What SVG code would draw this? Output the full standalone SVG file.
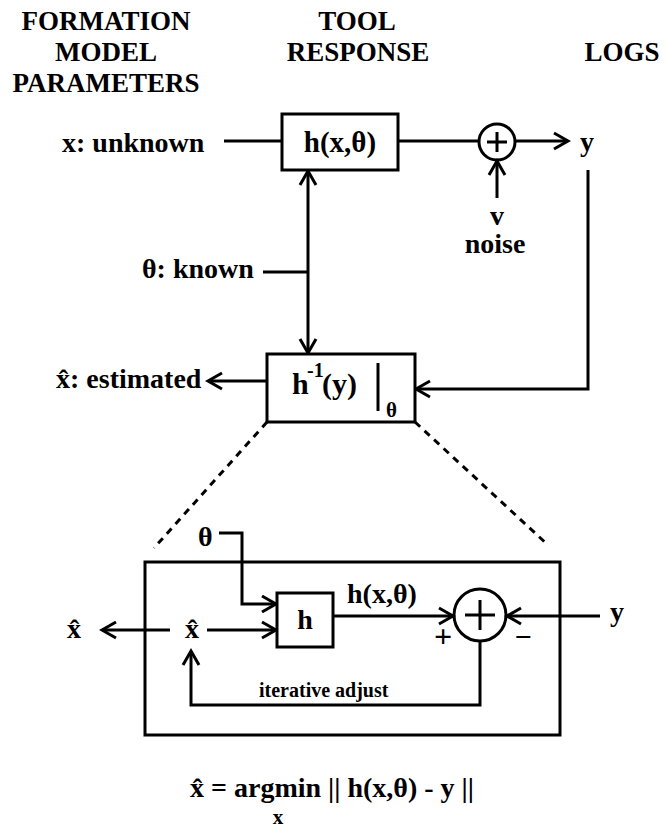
<svg xmlns="http://www.w3.org/2000/svg" width="667" height="830" viewBox="0 0 667 830">
<style>
text{font-family:"Liberation Serif","Times New Roman",serif;font-weight:bold;fill:#000}
.hd{font-size:27px;text-anchor:middle}
.t{font-size:28px}
.c{text-anchor:middle}
.sm{font-size:20px}
.box{fill:#fff;stroke:#000;stroke-width:3}
.frame{fill:none;stroke:#000;stroke-width:3}
.ln{fill:none;stroke:#000;stroke-width:3}
.arr{marker-end:url(#ah)}
.dash{fill:none;stroke:#000;stroke-width:3;stroke-dasharray:7 6}
</style>
<defs>
<marker id="ah" viewBox="-16 -10 19 20" refX="0" refY="0" markerWidth="19" markerHeight="20" markerUnits="userSpaceOnUse" orient="auto-start-reverse">
<path d="M-14,-8 L0,0 L-14,8" fill="none" stroke="#000" stroke-width="3"/>
</marker>
</defs>
<rect width="667" height="830" fill="#fff"/>

<g id="headers">
<text class="hd" x="106" y="30">FORMATION</text>
<text class="hd" x="106" y="61">MODEL</text>
<text class="hd" x="106" y="92">PARAMETERS</text>
<text class="hd" x="357" y="30">TOOL</text>
<text class="hd" x="358" y="61">RESPONSE</text>
<text class="hd" x="622" y="61">LOGS</text>
</g>

<g id="detail">
<rect class="frame" x="145" y="562" width="415" height="173"/>
</g>

<g id="connectors">
<path class="ln" d="M224,141 H282"/>
<path class="ln" d="M398,141 H479"/>
<path class="ln arr" d="M515,141 H568"/>
<path class="ln arr" d="M497,198 V161"/>
<path class="ln" d="M308,171 V353" marker-start="url(#ah)" marker-end="url(#ah)"/>
<path class="ln" d="M263,272 H308"/>
<path class="ln arr" d="M588,170 V389 H416"/>
<path class="ln arr" d="M267,381 H208"/>
<path class="dash" d="M267,422 L154,548"/>
<path class="dash" d="M415,422 L548,545"/>
<path class="ln arr" d="M219,533 H242 V604 H276"/>
<path class="ln arr" d="M207,630 H276"/>
<path class="ln arr" d="M170,630 H102"/>
<path class="ln arr" d="M333,616 H453"/>
<path class="ln arr" d="M600,616 H507"/>
<path class="ln arr" d="M480,641 V705 H191 V651"/>
</g>

<g id="x-unknown"><text class="t" x="62" y="152">x: unknown</text></g>
<g id="tool-model">
<rect class="box" x="282" y="114" width="116" height="56"/>
<text class="t c" x="340" y="152" style="font-size:29px">h(x,θ)</text>
</g>
<g id="sum-top">
<circle class="ln" cx="497" cy="142" r="18"/>
<path class="ln" d="M487,142 H507 M497,132 V152"/>
</g>
<g id="y-out"><text class="t" x="580" y="151">y</text></g>
<g id="noise">
<text class="t c" x="497" y="225">v</text>
<text class="t c" x="495" y="253">noise</text>
</g>
<g id="theta-known"><text class="t" x="142" y="278">θ: known</text></g>
<g id="inverse">
<rect class="box" x="267" y="354" width="148" height="68"/>
<text x="292" y="394" style="font-size:30px">h</text>
<text x="307" y="377" style="font-size:20px">-1</text>
<text x="322" y="394" style="font-size:30px">(y)</text>
<path class="ln" d="M378,363 V411"/>
<text x="386" y="417" style="font-size:21px">θ</text>
</g>
<g id="x-estimated"><text class="t" x="56" y="388">x̂: estimated</text></g>

<g id="theta-in"><text class="t" x="198" y="546">θ</text></g>
<g id="xhat-in"><text class="t c" x="192" y="638">x̂</text></g>
<g id="xhat-out"><text class="t c" x="74" y="638">x̂</text></g>
<g id="h-box">
<rect class="box" x="277" y="593" width="56" height="54"/>
<text class="t c" x="305" y="629">h</text>
</g>
<g id="h-label"><text class="t" x="347" y="603">h(x,θ)</text></g>
<g id="sum-in">
<circle class="ln" cx="480" cy="615" r="26"/>
<path class="ln" d="M465,615 H495 M480,600 V630"/>
<text class="c" x="443" y="647" style="font-size:32px">+</text>
<text class="c" x="523" y="647" style="font-size:30px">−</text>
</g>
<g id="y-in"><text class="t" x="610" y="621">y</text></g>
<g id="iter"><text class="sm" x="259" y="697">iterative adjust</text></g>
<g id="formula">
<text class="t" x="190" y="797">x̂ = argmin || h(x,θ) - y ||</text>
<text class="c" x="278" y="824" style="font-size:21px">x</text>
</g>
</svg>
